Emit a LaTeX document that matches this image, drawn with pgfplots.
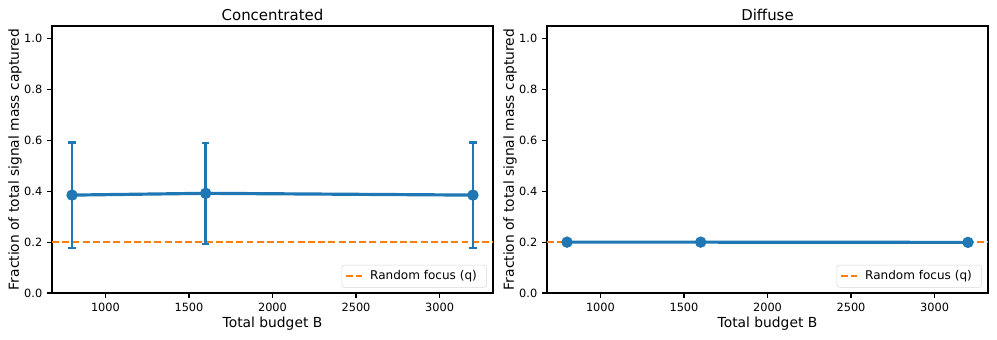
\documentclass[border=0pt]{standalone}
\usepackage{fontspec}
\setmainfont{DejaVu Sans}
\usepackage{pgfplots}
\pgfplotsset{compat=1.18}

\definecolor{mblue}{HTML}{1F77B4}
\definecolor{morange}{HTML}{FF7F0E}

% mean and half-width of the error bar, per budget
\pgfplotstableread{
x    y      e
800  0.385  0.207
1600 0.392  0.198
3200 0.385  0.207
}\conc
\pgfplotstableread{
x    y      e
800  0.200  0.002
1600 0.200  0.002
3200 0.199  0.002
}\diff

\pgfplotsset{
  panel/.style={
    scale only axis,
    width=4.41in, height=2.67in,
    xmin=680, xmax=3320,
    ymin=0, ymax=1.05,
    xtick={1000,1500,2000,2500,3000},
    ytick={0,0.2,0.4,0.6,0.8,1.0},
    tick align=outside, tick pos=left,
    major tick length=3.5pt,
    tick style={black, line width=0.8pt},
    axis line style={line width=1.5pt},
    /pgf/number format/assume math mode=true,
    x tick label style={/pgf/number format/set thousands separator={}},
    y tick label style={/pgf/number format/.cd, fixed, fixed zerofill, precision=1},
    ticklabel style={font=\fontsize{8.2}{10}\selectfont},
    label style={font=\fontsize{10}{12}\selectfont},
    xlabel style={yshift=3pt},
    ylabel style={at={(axis description cs:-0.084,0.5)}, anchor=center},
    title style={font=\fontsize{10.8}{13}\selectfont, yshift=-5.5pt},
    xlabel={Total budget B},
    ylabel={Fraction of total signal mass captured},
    legend style={at={(0.986,0.02)}, anchor=south east, draw=black!15,
      rounded corners=2pt, font=\fontsize{8.7}{10.5}\selectfont,
      inner sep=2pt, nodes={inner xsep=5pt}},
    legend cell align=left,
    legend image code/.code={\draw[#1] (0cm,0cm) -- (0.42cm,0cm);},
  },
  randline/.style={morange, line width=1.5pt, dash pattern=on 5pt off 2.4pt},
  meanline/.style={mblue, line width=2.3pt, mark=*, mark size=2.9pt,
    mark options={solid, fill=mblue},
    error bars/y dir=both, error bars/y explicit,
    error bars/error bar style={line width=2pt, mblue},
    error bars/error mark options={line width=1.6pt, mblue, mark size=2.6pt, rotate=90}},
}

\begin{document}
\begin{tikzpicture}
\useasboundingbox (-0.52in,-0.46in) rectangle (9.45in,2.93in);

\begin{axis}[panel, title={Concentrated}]
\addplot[randline] coordinates {(680,0.2) (3320,0.2)};
\addlegendentry{Random focus (q)}
\addplot[meanline, forget plot] table[x=x, y=y, y error=e] {\conc};
\end{axis}

\begin{axis}[panel, at={(4.95in,0)}, title={Diffuse}]
\addplot[randline] coordinates {(680,0.2) (3320,0.2)};
\addlegendentry{Random focus (q)}
\addplot[meanline, forget plot] table[x=x, y=y, y error=e] {\diff};
\end{axis}
\end{tikzpicture}
\end{document}
